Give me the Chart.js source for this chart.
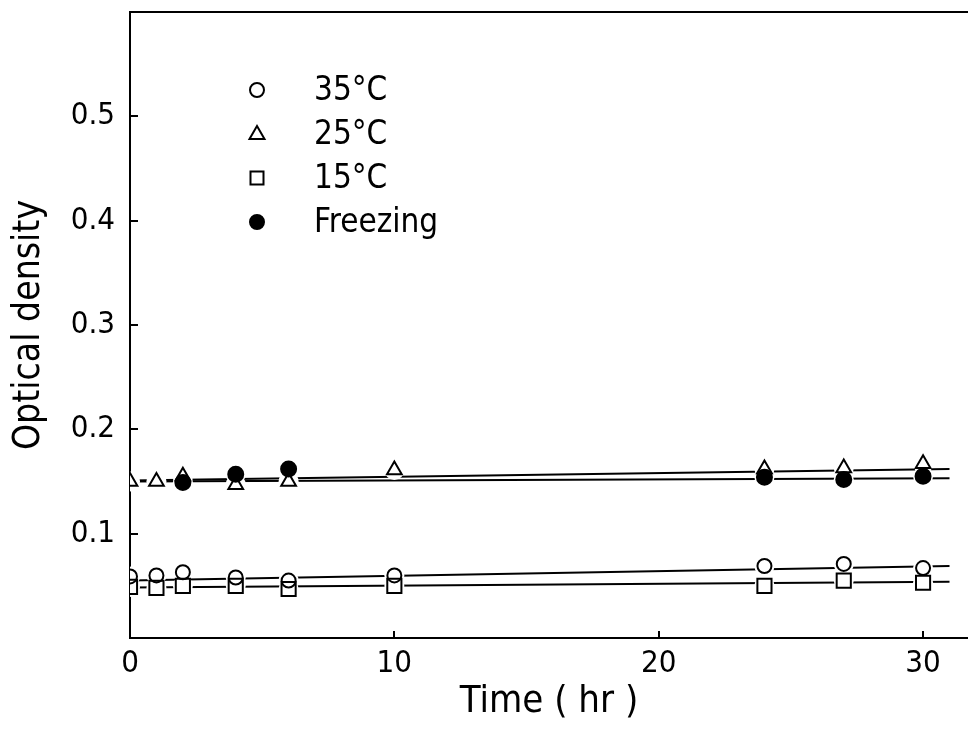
<!DOCTYPE html>
<html>
<head>
<meta charset="utf-8">
<script src="https://cdn.jsdelivr.net/npm/chart.js@4.4.1/dist/chart.umd.min.js"></script>
<style>
  html, body { margin: 0; padding: 0; background: #fff; }
  #wrap { width: 968px; height: 747px; }
</style>
</head>
<body>
<div id="wrap"><canvas id="odChart"></canvas></div>
<script>
// Sampling times (hr)
const times = [0, 1, 2, 4, 6, 10, 24, 27, 30];
const freezeTimes = [2, 4, 6, 24, 27, 30];

// Optical density readings
const od35 = [0.059, 0.060, 0.063, 0.058, 0.055, 0.060, 0.069, 0.071, 0.067];
const od25 = [0.150, 0.150, 0.155, 0.147, 0.150, 0.161, 0.162, 0.163, 0.167];
const od15 = [0.049, 0.048, 0.050, 0.050, 0.047, 0.050, 0.050, 0.055, 0.053];
const odFreezing = [0.149, 0.157, 0.162, 0.154, 0.152, 0.155];

// Fitted lines (start / end)
const fitTimes = [0, 31];
const fit35 = [0.055, 0.069];
const fit25 = [0.151, 0.162];
const fit15 = [0.0485, 0.054];
const fitFreezing = [0.150, 0.153];

// Tick labels
const xTickValues = [0, 10, 20, 30];
const yTickValues = [0.1, 0.2, 0.3, 0.4, 0.5];

const legendLabels = ['35°C', '25°C', '15°C', 'Freezing'];

const FONT = "'Liberation Sans Narrow', 'DejaVu Sans Condensed', 'Liberation Sans', sans-serif";

function toPoints(xs, ys) {
    return xs.map((x, i) => ({ x: x, y: ys[i] }));
}

function nearAny(v, list) {
    return list.some(t => Math.abs(t - v) < 1e-6);
}

function markerSet(label, xs, ys, style, radius, filled) {
    return {
        label: label,
        data: toPoints(xs, ys),
        pointStyle: style,
        pointRadius: radius,
        pointBackgroundColor: filled ? '#000' : 'rgba(0,0,0,0)',
        pointBorderColor: '#000',
        pointBorderWidth: 2,
        showLine: false,
        order: 0
    };
}

function haloSet(xs, ys) {
    return {
        data: toPoints(xs, ys),
        pointStyle: 'circle',
        pointRadius: 10,
        pointBackgroundColor: '#fff',
        pointBorderColor: '#fff',
        pointBorderWidth: 0,
        showLine: false,
        order: 1
    };
}

function fitSet(ys) {
    return {
        data: toPoints(fitTimes, ys),
        showLine: true,
        borderColor: '#000',
        borderWidth: 2,
        pointRadius: 0,
        fill: false,
        order: 2
    };
}

// no extra padding around the plot box
function noPad(s) {
    s.paddingTop = 0;
    s.paddingBottom = 0;
    s.paddingLeft = 0;
    s.paddingRight = 0;
}

// draws a legend marker by hand
function drawMarker(ctx, style, x, y, filled) {
    ctx.save();
    ctx.lineWidth = 2;
    ctx.strokeStyle = '#000';
    ctx.fillStyle = '#000';
    ctx.beginPath();
    if (style === 'circle') {
        ctx.arc(x, y, 7, 0, Math.PI * 2);
    } else if (style === 'triangle') {
        ctx.moveTo(x, y - 8);
        ctx.lineTo(x + 7.5, y + 5);
        ctx.lineTo(x - 7.5, y + 5);
        ctx.closePath();
    } else {
        ctx.rect(x - 6.5, y - 6.5, 13, 13);
    }
    if (filled) ctx.fill();
    ctx.stroke();
    ctx.restore();
}

const extrasPlugin = {
    id: 'extras',
    afterDraw(chart) {
        const ctx = chart.ctx;
        const area = chart.chartArea;
        const xs = chart.scales.x;
        const ys = chart.scales.y;

        // inward tick marks
        ctx.save();
        ctx.strokeStyle = '#000';
        ctx.lineWidth = 2;
        yTickValues.forEach(v => {
            const py = Math.round(ys.getPixelForValue(v));
            ctx.beginPath();
            ctx.moveTo(area.left, py);
            ctx.lineTo(area.left + 8, py);
            ctx.stroke();
        });
        xTickValues.slice(1).forEach(v => {
            const px = Math.round(xs.getPixelForValue(v));
            ctx.beginPath();
            ctx.moveTo(px, area.bottom);
            ctx.lineTo(px, area.bottom - 7);
            ctx.stroke();
        });
        ctx.restore();

        // legend inside the plot
        const styles = ['circle', 'triangle', 'rect', 'circle'];
        const filled = [false, false, false, true];
        ctx.save();
        ctx.font = '33px ' + FONT;
        ctx.fillStyle = '#000';
        ctx.textBaseline = 'middle';
        legendLabels.forEach((lab, i) => {
            const y = 90 + i * 44;
            drawMarker(ctx, styles[i], 257, y, filled[i]);
            ctx.fillText(lab, 314, y + 1);
        });
        ctx.restore();
    }
};

const ctx = document.getElementById('odChart').getContext('2d');
new Chart(ctx, {
    type: 'scatter',
    data: {
        datasets: [
            markerSet('Freezing', freezeTimes, odFreezing, 'circle', 7.5, true),
            markerSet('25°C', times, od25, 'triangle', 8.5, false),
            markerSet('35°C', times, od35, 'circle', 7, false),
            markerSet('15°C', times, od15, 'rect', 10, false),
            haloSet(freezeTimes, odFreezing),
            haloSet(times, od25),
            haloSet(times, od35),
            haloSet(times, od15),
            fitSet(fit35),
            fitSet(fit25),
            fitSet(fit15),
            fitSet(fitFreezing)
        ]
    },
    options: {
        responsive: true,
        maintainAspectRatio: false,
        animation: false,
        events: [],
        layout: { autoPadding: false, padding: { top: 12, right: 0, bottom: 0, left: 0 } },
        plugins: {
            legend: { display: false },
            tooltip: { enabled: false }
        },
        scales: {
            x: {
                type: 'linear',
                position: 'bottom',
                min: 0,
                max: 31.7,
                grid: { display: false, drawTicks: false },
                border: { display: true, color: '#000', width: 2 },
                ticks: {
                    stepSize: 10,
                    includeBounds: false,
                    maxRotation: 0,
                    autoSkip: false,
                    padding: 7,
                    color: '#000',
                    font: { family: FONT, size: 31 },
                    callback: v => nearAny(v, xTickValues) ? String(Math.round(v)) : null
                },
                title: {
                    display: true,
                    text: 'Time ( hr )',
                    color: '#000',
                    font: { family: FONT, size: 38 },
                    padding: { top: 0, bottom: 22 }
                },
                afterFit: s => { s.height = 109; noPad(s); }
            },
            xTop: {
                type: 'linear',
                position: 'top',
                min: 0,
                max: 1,
                grid: { display: false, drawTicks: false },
                border: { display: true, color: '#000', width: 2 },
                ticks: { display: false },
                afterFit: s => { s.height = 0; noPad(s); }
            },
            y: {
                type: 'linear',
                min: 0,
                max: 0.6,
                grid: { display: false, drawTicks: false },
                border: { display: true, color: '#000', width: 2 },
                ticks: {
                    stepSize: 0.1,
                    padding: 15,
                    color: '#000',
                    font: { family: FONT, size: 31 },
                    callback: v => nearAny(v, yTickValues) ? v.toFixed(1) : null
                },
                title: {
                    display: true,
                    text: 'Optical density',
                    color: '#000',
                    font: { family: FONT, size: 37 },
                    padding: { top: 7, bottom: 0 }
                },
                afterFit: s => { s.width = 130; noPad(s); }
            }
        }
    },
    plugins: [extrasPlugin]
});
</script>
</body>
</html>
